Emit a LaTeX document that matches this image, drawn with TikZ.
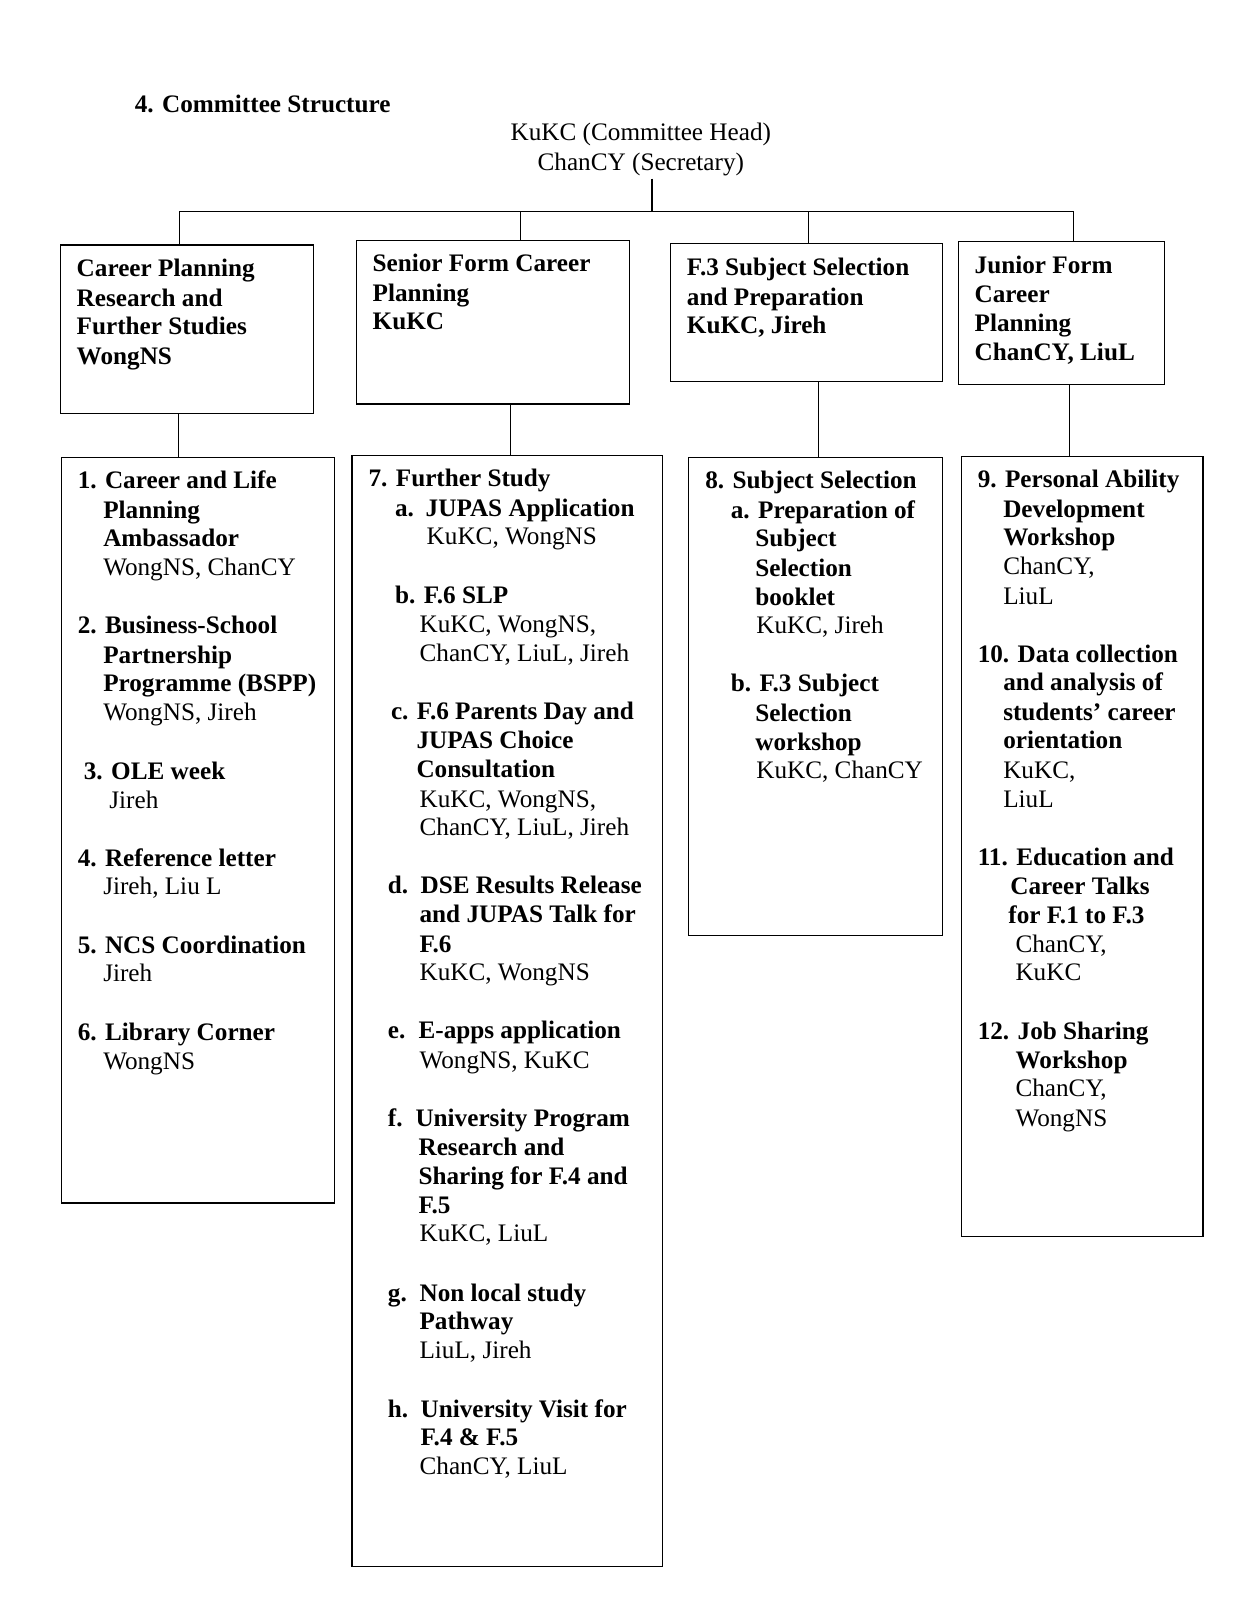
\documentclass[tikz,border=0pt]{standalone}
\usepackage{fontspec}
\setmainfont{Liberation Serif}
\usetikzlibrary{fit}
\newcounter{txtc}
\newcommand\TxB[3]{\stepcounter{txtc}\node[bt] (t\arabic{txtc}) at (#1,#2+8) {#3};}
\newcommand\TxR[3]{\stepcounter{txtc}\node[rt] (t\arabic{txtc}) at (#1,#2+8) {#3};}
\begin{document}
\begin{tikzpicture}[x=1.0204pt,y=-1.0204pt,
  bt/.style={anchor=base west, inner sep=0pt, font=\fontsize{25.2}{29}\selectfont\bfseries},
  rt/.style={anchor=base west, inner sep=0pt, font=\fontsize{25.2}{29}\selectfont},
  box/.style={draw, line width=1.2pt, inner sep=0pt, outer sep=0pt},
  conn/.style={draw, line width=1.2pt}]
\useasboundingbox[fill=white] (0,0) rectangle (1227,1568);

% title and head
\TxB{132}{102}{4. Committee Structure}
\node[rt, anchor=base] (h1) at (628,138) {KuKC (Committee Head)};
\node[rt, anchor=base] (h2) at (628,167) {ChanCY (Secretary)};

% top boxes
\node[box, fit={(59,240) (307,405)}] (b1) {};
\node[box, fit={(349,236) (617,396)}] (b2) {};
\node[box, fit={(657,239) (924,374)}] (b3) {};
\node[box, fit={(939,237) (1141,377)}] (b4) {};

% bottom boxes
\node[box, fit={(60,448) (328,1179)}] (c1) {};
\node[box, fit={(345,446) (649,1535)}] (c2) {};
\node[box, fit={(675,448) (924,917)}] (c3) {};
\node[box, fit={(942,447) (1179,1212)}] (c4) {};

% connectors
\coordinate (hx) at (639,175);
\coordinate (barL) at (176,207);
\coordinate (barR) at (1052,207);
\coordinate (d2) at (510,207);
\coordinate (d3) at (792,207);
\draw[conn] (hx) -- (hx |- barL);
\draw[conn] (barL) -- (barR);
\draw[conn] (barL) -- (b1.north -| barL);
\draw[conn] (d2) -- (b2.north -| d2);
\draw[conn] (d3) -- (b3.north -| d3);
\draw[conn] (barR) -- (b4.north -| barR);
\coordinate (l1) at (175,0);
\coordinate (l2) at (500,0);
\coordinate (l3) at (802,0);
\coordinate (l4) at (1048,0);
\draw[conn] (b1.south -| l1) -- (c1.north -| l1);
\draw[conn] (b2.south -| l2) -- (c2.north -| l2);
\draw[conn] (b3.south -| l3) -- (c3.north -| l3);
\draw[conn] (b4.south -| l4) -- (c4.north -| l4);

% top box texts
\TxB{75}{263}{Career Planning}
\TxB{75}{292}{Research and}
\TxB{75}{320}{Further Studies}
\TxB{75}{349}{WongNS}
\TxB{365}{258}{Senior Form Career}
\TxB{365}{287}{Planning}
\TxB{365}{315}{KuKC}
\TxB{673}{262}{F.3 Subject Selection}
\TxB{673}{291}{and Preparation}
\TxB{673}{319}{KuKC, Jireh}
\TxB{955}{260}{Junior Form}
\TxB{955}{288}{Career}
\TxB{955}{317}{Planning}
\TxB{955}{345}{ChanCY, LiuL}

% column 1
\TxB{76}{471}{1. Career and Life}
\TxB{101}{500}{Planning}
\TxB{101}{528}{Ambassador}
\TxR{101}{556}{WongNS, ChanCY}
\TxB{76}{613}{2. Business-School}
\TxB{101}{642}{Partnership}
\TxB{101}{670}{Programme (BSPP)}
\TxR{101}{698}{WongNS, Jireh}
\TxB{82}{756}{3. OLE week}
\TxR{107}{784}{Jireh}
\TxB{76}{841}{4. Reference letter}
\TxR{101}{869}{Jireh, Liu L}
\TxB{76}{926}{5. NCS Coordination}
\TxR{101}{954}{Jireh}
\TxB{76}{1012}{6. Library Corner}
\TxR{101}{1040}{WongNS}

% column 2
\TxB{361}{469}{7. Further Study}
\TxB{387}{498}{a.}
\TxB{417}{498}{JUPAS Application}
\TxR{418}{526}{KuKC, WongNS}
\TxB{387}{583}{b. F.6 SLP}
\TxR{411}{612}{KuKC, WongNS,}
\TxR{411}{640}{ChanCY, LiuL, Jireh}
\TxB{383}{697}{c. F.6 Parents Day and}
\TxB{408}{726}{JUPAS Choice}
\TxB{408}{754}{Consultation}
\TxR{411}{783}{KuKC, WongNS,}
\TxR{411}{811}{ChanCY, LiuL, Jireh}
\TxB{380}{868}{d.}
\TxB{412}{868}{DSE Results Release}
\TxB{411}{896}{and JUPAS Talk for}
\TxB{411}{925}{F.6}
\TxR{411}{953}{KuKC, WongNS}
\TxB{380}{1010}{e.}
\TxB{410}{1010}{E-apps application}
\TxR{411}{1039}{WongNS, KuKC}
\TxB{380}{1096}{f.}
\TxB{407}{1096}{University Program}
\TxB{410}{1124}{Research and}
\TxB{410}{1153}{Sharing for F.4 and}
\TxB{410}{1181}{F.5}
\TxR{411}{1209}{KuKC, LiuL}
\TxB{380}{1267}{g.}
\TxB{411}{1267}{Non local study}
\TxB{411}{1295}{Pathway}
\TxR{411}{1323}{LiuL, Jireh}
\TxB{380}{1381}{h.}
\TxB{412}{1381}{University Visit for}
\TxB{412}{1409}{F.4 \& F.5}
\TxR{411}{1437}{ChanCY, LiuL}

% column 3
\TxB{691}{471}{8. Subject Selection}
\TxB{716}{500}{a. Preparation of}
\TxB{740}{528}{Subject}
\TxB{740}{557}{Selection}
\TxB{740}{585}{booklet}
\TxR{741}{613}{KuKC, Jireh}
\TxB{716}{670}{b. F.3 Subject}
\TxB{740}{699}{Selection}
\TxB{740}{727}{workshop}
\TxR{741}{755}{KuKC, ChanCY}

% column 4
\TxB{958}{470}{9. Personal Ability}
\TxB{983}{499}{Development}
\TxB{983}{527}{Workshop}
\TxR{983}{555}{ChanCY,}
\TxR{983}{584}{LiuL}
\TxB{958}{641}{10. Data collection}
\TxB{983}{669}{and analysis of}
\TxB{983}{698}{students’ career}
\TxB{983}{726}{orientation}
\TxR{983}{755}{KuKC,}
\TxR{983}{783}{LiuL}
\TxB{958}{840}{11. Education and}
\TxB{990}{869}{Career Talks}
\TxB{988}{897}{for F.1 to F.3}
\TxR{995}{925}{ChanCY,}
\TxR{995}{953}{KuKC}
\TxB{958}{1011}{12. Job Sharing}
\TxB{995}{1039}{Workshop}
\TxR{995}{1067}{ChanCY,}
\TxR{995}{1096}{WongNS}
\end{tikzpicture}
\end{document}
